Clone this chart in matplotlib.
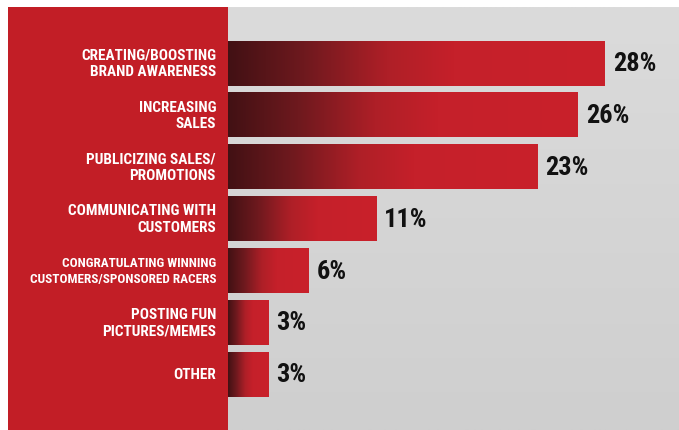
import numpy as np
import matplotlib
matplotlib.use("Agg")
import matplotlib.pyplot as plt
from matplotlib import font_manager, transforms
from matplotlib.colors import LinearSegmentedColormap
from matplotlib.patches import Rectangle

categories = [
    "CREATING/BOOSTING\nBRAND AWARENESS",
    "INCREASING\nSALES",
    "PUBLICIZING SALES/\nPROMOTIONS",
    "COMMUNICATING WITH\nCUSTOMERS",
    "CONGRATULATING WINNING\nCUSTOMERS/SPONSORED RACERS",
    "POSTING FUN\nPICTURES/MEMES",
    "OTHER",
]
values = [28, 26, 23, 11, 6, 3, 3]
value_labels = ["28%", "26%", "23%", "11%", "6%", "3%", "3%"]

fl = font_manager.fontManager.ttflist
names = {f.name for f in fl}
FONT, STRETCH = "Roboto", "normal"
for cand in ["Liberation Sans Narrow", "Roboto Condensed", "Open Sans Condensed", "DejaVu Sans Condensed"]:
    if cand in names:
        FONT, STRETCH = cand, "normal"
        break
else:
    if any(f.name == "DejaVu Sans" and str(f.stretch) in ("condensed", "semi-condensed") for f in fl):
        FONT, STRETCH = "DejaVu Sans", "condensed"
    elif any(f.name == "Open Sans" and str(f.stretch) in ("condensed", "semi-condensed") for f in fl):
        FONT, STRETCH = "Open Sans", "condensed"

W, H = 679, 431
fig = plt.figure(figsize=(W / 100, H / 100), dpi=100)
fig.patch.set_facecolor("white")

def fx(px):
    return px / W

def fy(py_top):
    return 1 - py_top / H

grey_ax = fig.add_axes([fx(228), 0, 1 - fx(228), fy(8)], zorder=0)
grey_ax.set_axis_off()
grad = np.linspace(0, 1, 200).reshape(-1, 1)
grey_cmap = LinearSegmentedColormap.from_list("g", ["#dbdbdb", "#cfcfcf"])
grey_ax.imshow(grad, aspect="auto", cmap=grey_cmap, extent=[0, 1, 0, 1], origin="upper")
grey_ax.set_xlim(0, 1)
grey_ax.set_ylim(0, 1)

red_ax = fig.add_axes([fx(8), 0, fx(228) - fx(8), fy(8)], zorder=0)
red_ax.set_axis_off()
red_ax.add_patch(Rectangle((0, 0), 1, 1, transform=red_ax.transAxes, facecolor="#c21e26", edgecolor="none"))

px_per = 13.46
x0 = 228
xmax = (W - x0) / px_per
pitch = 51.9
c0 = 64.0
ytop = -(c0 - 8) / pitch
ybot = (H - c0) / pitch
ax = fig.add_axes([fx(x0), 0, 1 - fx(x0), fy(8)], zorder=2)
ax.set_xlim(0, xmax)
ax.set_ylim(ybot, ytop)
ax.set_axis_off()
ax.patch.set_alpha(0)

bar_cmap = LinearSegmentedColormap.from_list(
    "b", [(0, "#421114"), (0.2, "#6e191e"), (0.42, "#ae1f27"), (0.6, "#c5202a"), (1, "#c9212b")])

h = 45 / pitch
ypos = np.arange(len(values))
bars = ax.barh(ypos, values, height=h, color="#c6202a", edgecolor="none", zorder=2)
g = np.linspace(0, 1, 256).reshape(1, -1)
for b, v, y in zip(bars, values, ypos):
    im = ax.imshow(g, aspect="auto", cmap=bar_cmap, extent=[0, v, y + h / 2, y - h / 2],
                   zorder=3, interpolation="bilinear")
    im.set_clip_path(b)

ax.set_xlim(0, xmax)
ax.set_ylim(ybot, ytop)

for v, y, lab in zip(values, ypos, value_labels):
    ax.text(v + 8 / px_per, y, lab, ha="left", va="center", fontsize=19, fontweight="bold",
            family=FONT, fontstretch=STRETCH, color="#111111", zorder=4)

trans = transforms.blended_transform_factory(fig.transFigure, ax.transData)
for cat, y in zip(categories, ypos):
    fs = 11 if not cat.startswith("CONGRAT") else 9.5
    ax.text(fx(216), y, cat, transform=trans, ha="right", va="center", multialignment="right",
            fontsize=fs, fontweight="bold", family=FONT, fontstretch=STRETCH,
            color="white", linespacing=1.22, zorder=4, clip_on=False)

fig.savefig("out.png", dpi=100)
